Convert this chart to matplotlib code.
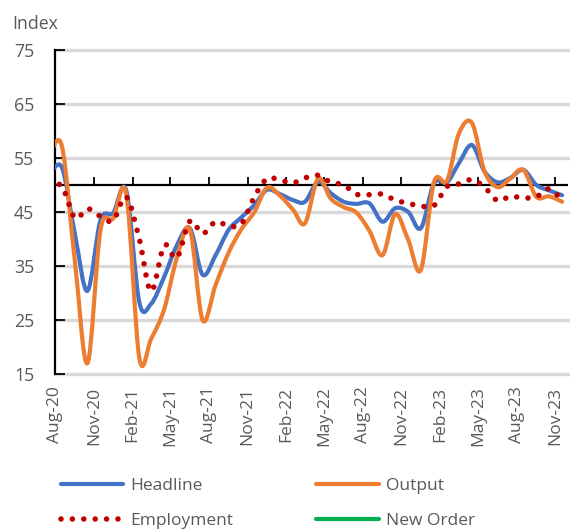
import numpy as np
import pandas as pd
import matplotlib
matplotlib.use("Agg")
import matplotlib.pyplot as plt
import matplotlib.dates as mdates
from matplotlib.path import Path
from matplotlib.patches import PathPatch
from matplotlib.lines import Line2D

plt.rcParams['font.family'] = ['Open Sans', 'DejaVu Sans']

# ---- data (monthly, Jul-20 .. Nov-23) ----
months = pd.date_range('2020-07-01', '2023-11-01', freq='MS')
headline = [51.5, 53.3, 41.0, 30.4, 43.5, 44.8, 49.0, 28.3, 28.0, 33.0, 38.8, 42.0, 33.4, 37.0,
            41.7, 44.0, 46.3, 49.1, 48.3, 47.2, 46.9, 50.6, 48.5, 46.9, 46.5, 46.6, 43.2, 45.7,
            45.0, 42.0, 50.3, 50.5, 54.0, 57.4, 52.5, 50.5, 51.3, 52.8, 50.0, 49.0, 48.1]
output = [55.0, 57.3, 36.0, 17.0, 41.7, 43.8, 48.3, 18.0, 21.5, 27.0, 36.5, 41.8, 25.0, 31.5,
          37.5, 41.8, 45.0, 49.5, 48.0, 45.4, 42.9, 51.2, 47.5, 45.9, 44.9, 41.5, 37.0, 44.6,
          39.8, 34.3, 50.5, 50.8, 59.5, 61.5, 52.5, 49.6, 51.2, 52.8, 47.8, 47.9, 46.9]
employment = [49.5, 49.8, 43.9, 45.6, 44.2, 43.4, 47.8, 40.0, 30.3, 38.8, 36.5, 43.3, 41.0, 43.2,
              42.4, 42.8, 47.8, 51.2, 50.9, 50.4, 51.3, 51.8, 50.5, 50.0, 48.3, 48.2, 48.3, 47.2,
              46.6, 46.1, 46.2, 49.7, 50.2, 51.0, 49.6, 47.1, 47.9, 47.6, 47.8, 49.3, 47.2]
new_order = []
series_names = ['Headline', 'Output', 'Employment', 'New Order']
colors = ['#4472C4', '#ED7D31', '#C00000', '#00B050']
y_ticks = [15, 25, 35, 45, 55, 65, 75]

# data points are dated mid-month
x_dates = mdates.date2num(months + pd.Timedelta(days=16))


def smooth_path(x, y):
    """Excel-like smoothed line: cubic Bezier through each point."""
    P = np.column_stack([x, y]).astype(float)
    n = len(P)
    verts = [P[0]]
    codes = [Path.MOVETO]
    for i in range(n - 1):
        p0 = P[i - 1] if i > 0 else P[i]
        p1, p2 = P[i], P[i + 1]
        p3 = P[i + 2] if i + 2 < n else P[i + 1]
        verts += [p1 + (p2 - p0) / 6.0, p2 - (p3 - p1) / 6.0, p2]
        codes += [Path.CURVE4] * 3
    return Path(verts, codes)


fig = plt.figure(figsize=(5.70, 5.32), dpi=100)
ax = fig.add_axes([55 / 570, 1 - 374 / 532, 513 / 570, 324 / 532])

x_start = mdates.date2num(pd.Timestamp('2020-08-01'))
x_end = mdates.date2num(pd.Timestamp('2023-12-01'))
ax.set_xlim(x_start, x_end)
ax.set_ylim(15, 75)

# gridlines
ax.set_yticks(y_ticks)
ax.yaxis.grid(True, color='#D9D9D9', linewidth=2.4)
for gl in ax.get_ygridlines():
    gl.set_clip_on(False)
ax.set_axisbelow(True)

# series
ax.add_patch(PathPatch(smooth_path(x_dates, headline), fill=False, edgecolor=colors[0],
                       linewidth=3.0, capstyle='round', joinstyle='round', zorder=3))
ax.add_patch(PathPatch(smooth_path(x_dates, output), fill=False, edgecolor=colors[1],
                       linewidth=3.0, capstyle='round', joinstyle='round', zorder=4))
ax.add_patch(PathPatch(smooth_path(x_dates, employment), fill=False, edgecolor=colors[2],
                       linewidth=4.0, linestyle=(0, (0.001, 2.05)), capstyle='round',
                       zorder=5))
ax.plot(x_dates[:len(new_order)], new_order, color=colors[3])

# axis line at 50 with up-ticks
ax.axhline(50, color='black', linewidth=1.6, zorder=2.5)
sec = ax.secondary_xaxis((50 - 15) / (75 - 15))
sec.spines['top'].set_visible(False)
sec.spines['bottom'].set_visible(False)
tick_dates = pd.date_range('2020-08-01', '2023-11-01', freq='3MS')
sec.set_xticks(mdates.date2num(tick_dates))
sec.tick_params(axis='x', which='both', direction='out', length=6, width=1.3,
                color='black', labeltop=False, labelbottom=False, top=True, bottom=False)

# main x axis labels
ax.set_xticks(mdates.date2num(tick_dates))
ax.set_xticklabels([d.strftime('%b-%y') for d in tick_dates], rotation=90,
                   fontsize=12.5, color='#595959')
ax.tick_params(axis='x', length=0, pad=9)
ax.set_yticklabels([str(v) for v in y_ticks], fontsize=12.8, color='#595959')
ax.tick_params(axis='y', direction='in', length=7, width=1.3, color='black', pad=15)

for s in ['top', 'right', 'bottom']:
    ax.spines[s].set_visible(False)
ax.spines['left'].set_linewidth(1.6)
ax.spines['left'].set_color('black')

fig.text(12 / 570, 1 - 29 / 532, 'Index', fontsize=12.7, color='#595959', va='baseline')

h_head = Line2D([], [], color=colors[0], lw=3.0, solid_capstyle='round')
h_out = Line2D([], [], color=colors[1], lw=3.0, solid_capstyle='round')
h_emp = Line2D([], [], color=colors[2], lw=4.0, linestyle=(0, (0.001, 2.05)),
               dash_capstyle='round')
h_new = Line2D([], [], color=colors[3], lw=3.0, solid_capstyle='round')
# column-major order so that rows read Headline/Output, Employment/New Order
fig.legend([h_head, h_emp, h_out, h_new],
           [series_names[0], series_names[2], series_names[1], series_names[3]],
           ncol=2, loc='upper left',
           bbox_to_anchor=(45 / 570, 1 - 462 / 532), frameon=False, fontsize=12.5,
           labelcolor='#595959', handlelength=3.6, handletextpad=0.4,
           columnspacing=4.8, labelspacing=1.12)

fig.savefig('out.png', dpi=100)
